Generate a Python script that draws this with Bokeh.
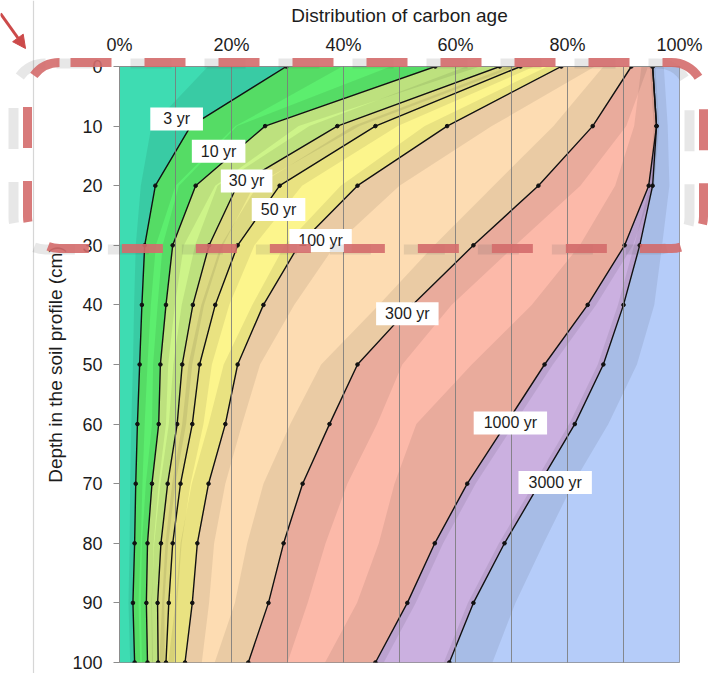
import numpy as np
from bokeh.plotting import figure
from bokeh.models import Range1d, FixedTicker, Label, BoxAnnotation, Arrow, NormalHead, Span
from bokeh.embed import file_html
from bokeh.resources import INLINE

# ---------------- data ----------------
depth = [0, 10, 20, 30, 40, 50, 60, 70, 80, 90, 100]
age_labels = ["3 yr", "10 yr", "30 yr", "50 yr", "100 yr", "300 yr", "1000 yr", "3000 yr"]

# cumulative fraction (%) of carbon younger than each age, by depth
cum_3yr    = [29.8, 12.7, 6.4, 4.5, 4.0, 3.6, 3.2, 2.9, 2.7, 2.4, 2.7]
cum_10yr   = [56.4, 26.0, 13.6, 9.5, 8.3, 7.3, 7.0, 5.8, 5.0, 4.8, 5.0]
cum_30yr   = [67.9, 38.9, 21.0, 16.0, 13.1, 11.2, 10.3, 8.6, 7.4, 6.8, 6.9]
cum_50yr   = [71.6, 45.7, 28.6, 21.1, 17.1, 14.3, 13.0, 10.9, 9.5, 8.8, 8.3]
cum_100yr  = [78.9, 58.5, 42.5, 32.0, 25.7, 21.1, 18.9, 15.9, 13.9, 13.0, 11.7]
cum_300yr  = [91.4, 84.5, 74.8, 63.2, 52.3, 42.5, 37.5, 32.7, 29.3, 26.6, 23.0]
cum_1000yr = [95.2, 95.9, 94.5, 90.2, 83.6, 75.9, 69.0, 62.1, 56.3, 51.4, 45.7]
cum_3000yr = [95.2, 95.9, 95.2, 92.9, 90.0, 86.4, 81.3, 75.0, 68.75, 63.2, 58.9]

# uncertainty range around each curve (below / above, in %)
unc_lo_3yr    = [14, 7, 2.6, 1.6, 1.4, 1.2, 1.1, 1.0, 0.9, 0.8, 0.8]
unc_hi_3yr    = [10, 8, 3.6, 2.0, 1.6, 1.4, 1.3, 1.2, 1.1, 1.0, 1.0]
unc_lo_10yr   = [8, 5, 3, 1.8, 1.5, 1.3, 1.2, 1.1, 1.0, 1.0, 1.0]
unc_hi_10yr   = [8, 6, 3.5, 2.0, 1.6, 1.4, 1.3, 1.2, 1.1, 1.0, 1.0]
unc_lo_30yr   = [6, 5, 3.5, 2.5, 2.0, 1.6, 1.5, 1.3, 1.2, 1.1, 1.1]
unc_hi_30yr   = [3, 4, 3, 2.5, 2.0, 1.8, 1.6, 1.4, 1.3, 1.2, 1.2]
unc_lo_50yr   = [2, 4, 4, 3, 2.5, 2.0, 1.8, 1.5, 1.3, 1.2, 1.2]
unc_hi_50yr   = [2.5, 4, 4, 3, 2.5, 2.2, 2.0, 1.8, 1.6, 1.5, 1.5]
unc_lo_100yr  = [2.5, 4, 3, 2.5, 2, 2.5, 3, 3, 3, 3, 3]
unc_hi_100yr  = [6, 8, 7.5, 6.5, 5.5, 4, 3, 3, 3, 3, 3]
unc_lo_300yr  = [5, 7, 8, 7, 6, 6.5, 7, 7, 6.5, 6, 6]
unc_hi_300yr  = [3, 6, 7.5, 7.5, 7, 8, 8.5, 8, 7.5, 7, 7]
unc_lo_1000yr = [2, 4, 6, 8, 10, 13, 16, 13, 10, 9, 9]
unc_hi_1000yr = [0.5, 0.5, 1, 1.5, 1.5, 1.5, 1.5, 1.5, 1.5, 1.5, 1.5]
unc_lo_3000yr = [0.5, 0.5, 0.5, 1, 1, 1, 1, 1, 1, 1, 1]
unc_hi_3000yr = [2, 2, 3, 4, 5.5, 6, 6, 6, 7, 7.5, 7.7]

x_ticks = [0, 20, 40, 60, 80, 100]
x_tick_labels = ["0%", "20%", "40%", "60%", "80%", "100%"]
grid_ticks = [0, 10, 20, 30, 40, 50, 60, 70, 80, 90, 100]
y_ticks = depth

# label anchor positions (fraction %, depth cm)
label_x = [10.2, 17.7, 22.7, 28.4, 35.9, 51.4, 69.8, 77.8]
label_y = [8.8, 14.2, 19.2, 24.0, 29.2, 41.5, 59.8, 69.8]

# ---------------- styles ----------------
region_colors = ["#3EDCB2", "#5CEE6E", "#CDF489", "#EEEB8C", "#FCF58C",
                 "#FDDCB2", "#FCB9A9", "#CBB0E0", "#B5CCF9"]
label_pad = [13, 9, 8, 9, 9, 9, 10, 10]
FONT = "Liberation Sans"
TXT = "#1c1c1c"
W, H = 710, 673
FL, FR, FT, FB = 119, 679, 66, 662  # frame edges in page pixels

curves = [cum_3yr, cum_10yr, cum_30yr, cum_50yr, cum_100yr, cum_300yr, cum_1000yr, cum_3000yr]
unc_lo = [unc_lo_3yr, unc_lo_10yr, unc_lo_30yr, unc_lo_50yr, unc_lo_100yr, unc_lo_300yr, unc_lo_1000yr, unc_lo_3000yr]
unc_hi = [unc_hi_3yr, unc_hi_10yr, unc_hi_30yr, unc_hi_50yr, unc_hi_100yr, unc_hi_300yr, unc_hi_1000yr, unc_hi_3000yr]

p = figure(width=W, height=H, x_range=Range1d(0, 100), y_range=Range1d(100, 0),
           x_axis_location="above", output_backend="svg", toolbar_location=None, tools="",
           min_border_left=FL, min_border_right=W - FR, min_border_top=FT, min_border_bottom=H - FB,
           background_fill_color="white", border_fill_color="white",
           outline_line_color="#8c8c8c")

d = np.array(depth, dtype=float)
bounds = [np.zeros(len(depth))] + [np.array(c, dtype=float) for c in curves] + [np.full(len(depth), 100.0)]

# filled age classes
for k, col in enumerate(region_colors):
    p.harea(y=d, x1=bounds[k], x2=bounds[k + 1], fill_color=col, fill_alpha=1.0)

# uncertainty bands
for c, lo, hi in zip(curves, unc_lo, unc_hi):
    c = np.array(c, dtype=float)
    x1 = np.clip(c - np.array(lo), 0, 100)
    x2 = np.clip(c + np.array(hi), 0, 100)
    p.harea(y=d, x1=x1, x2=x2, fill_color="black", fill_alpha=0.075)

# curves with points
for c in curves:
    p.line(x=c, y=depth, line_color="#111111", line_width=1.4)
    p.scatter(x=c, y=depth, size=3.6, color="#111111")

# axes
p.xaxis.ticker = FixedTicker(ticks=x_ticks)
p.xaxis.major_label_overrides = {t: l for t, l in zip(x_ticks, x_tick_labels)}
p.xaxis.axis_label = "Distribution of carbon age"
p.xaxis.major_tick_out = 0
p.xaxis.major_tick_in = 0
p.xaxis.minor_tick_line_color = None
p.xaxis.major_label_standoff = 12
p.xaxis.axis_label_standoff = 6
p.xaxis.axis_line_color = "#8c8c8c"

p.yaxis.ticker = FixedTicker(ticks=y_ticks)
p.yaxis.axis_label = "Depth in the soil profile (cm)"
p.yaxis.major_tick_out = 6
p.yaxis.major_tick_in = 0
p.yaxis.minor_tick_line_color = None
p.yaxis.major_tick_line_color = "#8c8c8c"
p.yaxis.axis_line_color = "#8c8c8c"
p.yaxis.major_label_standoff = 11
p.yaxis.axis_label_standoff = 3

for ax in (p.xaxis[0], p.yaxis[0]):
    ax.major_label_text_font = FONT
    ax.major_label_text_font_size = "18px"
    ax.major_label_text_color = TXT
    ax.axis_label_text_font = FONT
    ax.axis_label_text_font_size = "19px"
    ax.axis_label_text_font_style = "normal"
    ax.axis_label_text_color = TXT

p.xgrid.ticker = FixedTicker(ticks=grid_ticks)
p.xgrid.grid_line_color = "#7a7a7a"
p.xgrid.grid_line_alpha = 0.85
p.xgrid.grid_line_width = 1
p.xgrid.level = "guide"
p.ygrid.grid_line_color = None

# curve labels
for txt, lx, ly, pad in zip(age_labels, label_x, label_y, label_pad):
    p.add_layout(Label(x=lx, y=ly, text=txt, text_font=FONT, text_font_size="16px",
                       text_color=TXT, text_align="center", text_baseline="middle",
                       anchor="center", background_fill_color="white", background_fill_alpha=1.0,
                       padding=dict(left=pad, right=pad, top=3, bottom=3)))

# ---------- transparent overlay root (page pixels) for highlight box and arrow ----------
q = figure(width=W, height=H, x_range=Range1d(0, W), y_range=Range1d(H, 0),
           x_axis_location=None, y_axis_location=None,
           output_backend="svg", toolbar_location=None, tools="",
           min_border=0, min_border_left=0, min_border_right=0,
           min_border_top=0, min_border_bottom=0,
           background_fill_alpha=0, border_fill_alpha=0, outline_line_color=None)
q.grid.visible = False
q.margin = (-H, 0, 0, 0)

# faint page border line
q.add_layout(Span(location=33, dimension="height", line_color="#d6d6d6", line_width=1.2))
# dashed highlight box: soft shadow, then red dashes
q.add_layout(BoxAnnotation(left=27 - 14, right=703 - 14, top=62 + 1, bottom=248 + 1,
                           fill_alpha=0, line_color="#555555", line_alpha=0.14,
                           line_width=10, line_dash="41 33", line_dash_offset=63,
                           border_radius=32))
q.add_layout(BoxAnnotation(left=27, right=703, top=62, bottom=248,
                           fill_alpha=0, line_color="#D46C6C", line_alpha=0.9,
                           line_width=9, line_dash="41 33", line_dash_offset=63,
                           border_radius=32))
# red arrow
q.add_layout(Arrow(end=NormalHead(size=13, fill_color="#CC4A4A", line_color="#CC4A4A"),
                   x_start=0, y_start=13, x_end=25, y_end=48,
                   line_color="#CC4A4A", line_width=3))

open("out.html", "w").write(file_html([p, q], INLINE))
